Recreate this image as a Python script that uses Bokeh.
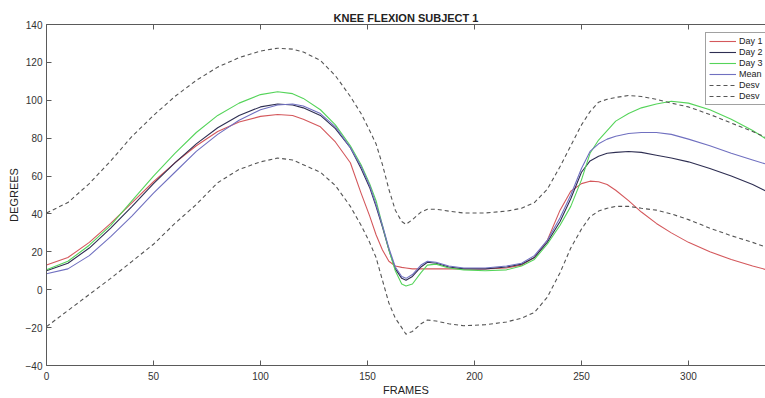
from bokeh.plotting import figure
from bokeh.models import Legend, LegendItem, LinearAxis, Range1d, FixedTicker
from bokeh.embed import file_html
from bokeh.resources import INLINE

frames = [0, 10, 20, 30, 40, 50, 60, 70, 80, 90, 100, 108, 115, 120, 128, 135, 142, 147, 151, 154,
          157, 160, 163, 166, 168, 171, 175, 178, 182, 188, 195, 205, 215, 222, 228, 234, 240, 245,
          250, 254, 258, 262, 266, 272, 278, 285, 292, 300, 310, 320, 330, 340]

day1 = [13, 17, 25, 35, 46, 57, 67, 76, 83.5, 88.5, 91.5, 92.5, 92, 90, 86, 78, 67, 51, 39, 29,
        21, 15, 12.5, 11.8, 11.5, 11, 11, 11, 11, 11, 11, 11, 11.5, 13, 17, 26, 42, 52,
        56, 57.3, 57, 55.5, 52.5, 47, 41, 35, 30, 25, 20, 16, 12.5, 9.5]

day2 = [10, 14, 22, 32.5, 44, 56, 67, 77, 85.5, 92, 96.5, 98, 97.5, 96, 92, 85, 75, 64, 54, 44,
        33, 21, 11, 6, 5, 7, 12, 14.5, 14, 12, 11, 11, 12, 13.5, 17, 25, 36, 48,
        62, 68, 70.5, 72, 72.5, 73, 72.5, 71, 69.5, 67.5, 64, 60, 55.5, 50]

day3 = [10.5, 15, 23.5, 34, 47, 60, 72, 83, 92, 98.5, 103, 104.5, 103.5, 101, 95, 87, 76, 66, 56, 47,
        34, 21, 10, 3, 2, 3, 9, 13, 13.5, 11.5, 10.5, 10, 10.5, 12.5, 16, 24, 34, 44,
        58, 72, 79, 84, 89, 93, 96, 98, 99.5, 98.5, 95, 90, 84, 77]

mean = [8.4, 11, 18, 28, 39, 51, 62, 73, 82, 89.5, 95, 97.5, 98, 97, 93, 86, 75, 65, 55, 45,
        34, 22, 12, 7, 6, 8, 13, 15, 14.5, 12.5, 11.5, 11.5, 12.5, 14, 18, 26, 38, 50,
        64, 73, 77, 79.5, 81, 82.5, 83, 83, 82, 79.5, 76, 72, 68.5, 65]

desv_up = [40.5, 46, 56, 68, 81, 92, 102, 110.5, 117.5, 122.5, 126, 127.5, 127, 125.5, 121, 113, 102, 93, 84, 77,
           66, 53, 42, 36, 34.5, 37, 41, 42.5, 42.5, 41.5, 40.5, 40.5, 41.5, 43, 46, 53, 65, 76,
           87, 94, 99, 100.5, 101.5, 102.5, 102, 100.5, 98.5, 96.5, 92.5, 88, 83.5, 78.5]

desv_low = [-19.5, -11, -2.5, 6, 15, 24, 35, 45, 56.5, 63.5, 67.5, 69.5, 68.5, 66, 62, 55, 44, 34, 25, 17,
            5, -7, -15, -20, -23.5, -22, -18, -16, -16.5, -18, -19, -18.5, -17, -15, -12, -4, 9, 22,
            32, 38.5, 41.5, 43, 44, 44, 43, 42, 40, 37, 32.5, 28.5, 25, 21]

legend_labels = ["Day 1", "Day 2", "Day 3", "Mean", "Desv", "Desv"]
x_ticks = [0, 50, 100, 150, 200, 250, 300]
y_ticks = [-40, -20, 0, 20, 40, 60, 80, 100, 120, 140]

FONT = "Liberation Sans"
AXIS_COL = "#5a5a5a"
TXT_COL = "#333333"

p = figure(width=765, height=398, output_backend="svg", toolbar_location=None,
           x_range=Range1d(0, 336), y_range=Range1d(-40, 140),
           title="KNEE FLEXION SUBJECT 1",
           min_border_left=46, min_border_right=0, min_border_top=24, min_border_bottom=32)
p.outline_line_color = None
p.background_fill_color = "white"
p.border_fill_color = "white"
p.grid.visible = False

p.title.align = "center"
p.title.text_font = FONT
p.title.text_font_size = "11px"
p.title.text_font_style = "bold"
p.title.text_color = "#222222"
p.title.standoff = 2
p.title.offset = 6

for ax in [p.xaxis[0], p.yaxis[0]]:
    ax.axis_line_color = AXIS_COL
    ax.major_tick_line_color = AXIS_COL
    ax.major_tick_in = 5
    ax.major_tick_out = 0
    ax.minor_tick_line_color = None
    ax.major_label_text_font = FONT
    ax.major_label_text_font_size = "10px"
    ax.major_label_text_color = TXT_COL
    ax.axis_label_text_font = FONT
    ax.axis_label_text_font_size = "11px"
    ax.axis_label_text_font_style = "normal"
    ax.axis_label_text_color = "#222222"

p.xaxis.ticker = FixedTicker(ticks=x_ticks)
p.yaxis.ticker = FixedTicker(ticks=y_ticks)
p.xaxis.axis_label = "FRAMES"
p.yaxis.axis_label = "DEGREES"
p.xaxis.major_label_standoff = 6
p.xaxis.axis_label_standoff = 1
p.yaxis.major_label_standoff = 4
p.yaxis.axis_label_standoff = 3

top = LinearAxis(ticker=FixedTicker(ticks=x_ticks))
top.axis_line_color = AXIS_COL
top.major_tick_line_color = AXIS_COL
top.major_tick_in = 5
top.major_tick_out = 0
top.minor_tick_line_color = None
top.major_label_overrides = {t: "" for t in x_ticks}
top.major_label_standoff = 0
p.add_layout(top, "above")

series = [day1, day2, day3, mean, desv_up, desv_low]
colors = ["#d4585c", "#2e2e52", "#55d45a", "#7070c0", "#555555", "#555555"]
dashes = ["solid", "solid", "solid", "solid", "4 3", "4 3"]
renderers = []
for ys, c, d in zip(series, colors, dashes):
    r = p.line(frames, ys, line_color=c, line_width=1.1, line_dash=d)
    renderers.append(r)

items = [LegendItem(label=lab, renderers=[r]) for lab, r in zip(legend_labels, renderers)]
legend = Legend(items=items, location=(659, 260))
legend.label_text_font = FONT
legend.label_text_font_size = "9px"
legend.label_text_color = "#222222"
legend.glyph_width = 27
legend.glyph_height = 10
legend.label_height = 10
legend.label_width = 32
legend.label_standoff = 3
legend.spacing = 1
legend.padding = 3
legend.margin = 0
legend.border_line_color = "#444444"
legend.border_line_width = 1
legend.background_fill_color = "white"
legend.background_fill_alpha = 1
p.add_layout(legend, "center")

open("out.html", "w").write(file_html(p, INLINE))
